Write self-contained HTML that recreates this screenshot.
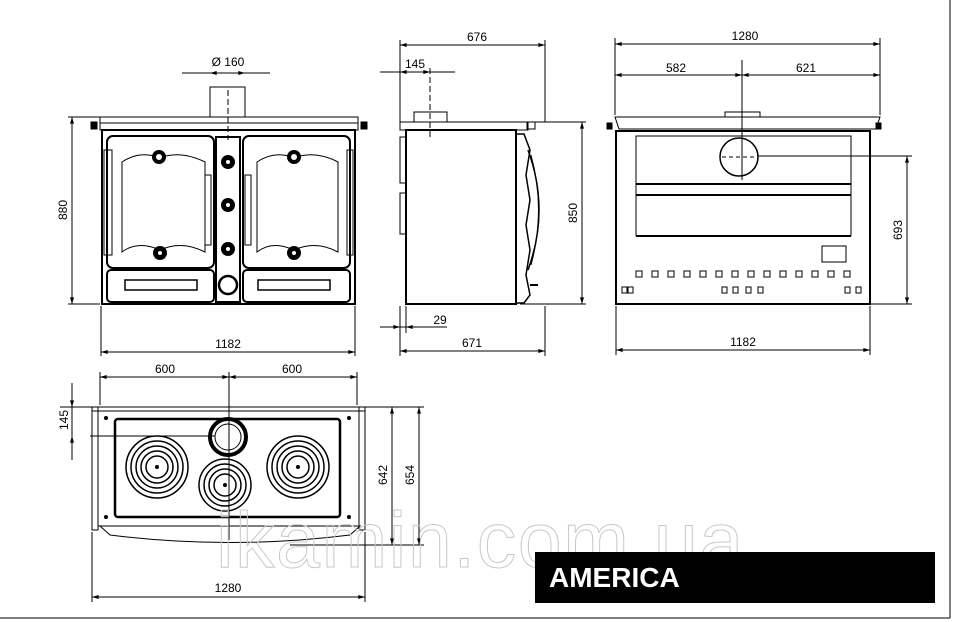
<!DOCTYPE html>
<html><head><meta charset="utf-8"><style>
html,body{margin:0;padding:0;background:#fff}
svg{display:block}
text{font-family:"Liberation Sans",sans-serif;fill:#000}
</style></head><body>
<svg width="954" height="622" viewBox="0 0 954 622" xmlns="http://www.w3.org/2000/svg">
<defs>
<marker id="a" viewBox="0 0 10 6" refX="10" refY="3" markerWidth="8" markerHeight="4" orient="auto-start-reverse"><path d="M0,0L10,3L0,6z" fill="#000"/></marker>
</defs>
<g stroke="#000" fill="none" stroke-width="1">
<line x1="0" y1="618" x2="950" y2="618"/>
<line x1="950" y1="0" x2="950" y2="618"/>

<line x1="182" y1="73" x2="270" y2="73"/>
<line x1="210" y1="73" x2="245" y2="73" marker-start="url(#a)" marker-end="url(#a)"/>
<line x1="228" y1="90" x2="228" y2="140" stroke-dasharray="6,3"/>
<rect x="210" y="87" width="35" height="30"/>
<rect x="100" y="117" width="258" height="6"/>
<rect x="100" y="123" width="258" height="7"/>
<rect x="91" y="122" width="6" height="7" fill="#000"/>
<rect x="361" y="122" width="6" height="7" fill="#000"/>
<rect x="102" y="130" width="253" height="174" stroke-width="2"/>
<rect x="107" y="136" width="107" height="132" rx="6" stroke-width="2"/>
<rect x="243" y="136" width="107" height="132" rx="6" stroke-width="2"/>
<path d="M122,162 Q140,150 160,158 Q180,150 205,162 L205,252 Q182,240 160,250 Q138,240 122,252Z"/>
<path d="M257,162 Q275,150 294,158 Q315,150 338,162 L338,252 Q316,240 294,250 Q272,240 257,252Z"/>
<path d="M104,150 L112,150 L112,255 L104,255Z"/>
<path d="M347,150 L353,150 L353,255 L347,255Z"/>
<rect x="216" y="137" width="24" height="165" stroke-width="2"/>
<rect x="205" y="175" width="6" height="70"/>
<rect x="245" y="175" width="6" height="70"/>
<rect x="107" y="270" width="107" height="32" rx="4" stroke-width="2"/>
<rect x="243" y="270" width="107" height="32" rx="4" stroke-width="2"/>
<rect x="125" y="280" width="72" height="10" stroke-width="1.5"/>
<rect x="258" y="280" width="72" height="10" stroke-width="1.5"/>
<circle cx="228" cy="285" r="9" stroke-width="2.5"/>
</g>
<g fill="#000">
<circle cx="159" cy="157" r="7"/><circle cx="294" cy="157" r="7"/>
<circle cx="160" cy="253" r="7"/><circle cx="294" cy="253" r="7"/>
<circle cx="228" cy="162" r="7"/><circle cx="228" cy="205" r="7"/><circle cx="228" cy="249" r="7"/>
</g>
<g fill="#fff"><circle cx="159" cy="157" r="3"/><circle cx="294" cy="157" r="3"/><circle cx="160" cy="253" r="2"/><circle cx="294" cy="253" r="2"/><circle cx="228" cy="162" r="2"/><circle cx="228" cy="205" r="2"/><circle cx="228" cy="249" r="2"/></g>
<g stroke="#000" fill="none">
<line x1="68" y1="117" x2="100" y2="117"/>
<line x1="68" y1="304" x2="100" y2="304"/>
<line x1="72" y1="117" x2="72" y2="304" marker-start="url(#a)" marker-end="url(#a)"/>
<line x1="101" y1="306" x2="101" y2="356"/>
<line x1="355" y1="306" x2="355" y2="356"/>
<line x1="101" y1="352" x2="355" y2="352" marker-start="url(#a)" marker-end="url(#a)"/>

<line x1="400" y1="40" x2="400" y2="122"/>
<line x1="545" y1="40" x2="545" y2="122"/>
<line x1="400" y1="45" x2="545" y2="45" marker-start="url(#a)" marker-end="url(#a)"/>
<line x1="380" y1="72" x2="455" y2="72"/>
<line x1="400" y1="72" x2="430" y2="72" marker-start="url(#a)" marker-end="url(#a)"/>
<line x1="430" y1="68" x2="430" y2="140" stroke-dasharray="6,3"/>
<rect x="414" y="112" width="33" height="10"/>
<rect x="400" y="122" width="128" height="8"/>
<rect x="527" y="122" width="8" height="7"/>
<rect x="406" y="130" width="110" height="174" stroke-width="2"/>
<rect x="400" y="137" width="6" height="46"/>
<rect x="400" y="193" width="6" height="41"/>
<path d="M516,134 L524,134 L530,150 L526,175 L530,200 L526,225 L530,250 L526,275 L530,295 L524,303 L516,303" stroke-width="1.5"/>
<path d="M528,150 Q550,210 528,270" stroke-width="1.5"/>
<path d="M531,155 Q546,210 531,265"/>
<line x1="530" y1="285" x2="538" y2="285" stroke-width="2"/>
<line x1="530" y1="122" x2="586" y2="122"/>
<line x1="520" y1="304" x2="586" y2="304"/>
<line x1="582" y1="122" x2="582" y2="304" marker-start="url(#a)" marker-end="url(#a)"/>
<line x1="406" y1="306" x2="406" y2="333"/>
<line x1="380" y1="327" x2="447" y2="327"/>
<line x1="390" y1="327" x2="400" y2="327" marker-end="url(#a)"/>
<line x1="416" y1="327" x2="406" y2="327" marker-end="url(#a)"/>
<line x1="400" y1="306" x2="400" y2="356"/>
<line x1="545" y1="306" x2="545" y2="356"/>
<line x1="400" y1="351" x2="545" y2="351" marker-start="url(#a)" marker-end="url(#a)"/>

<line x1="615" y1="38" x2="615" y2="115"/>
<line x1="880" y1="38" x2="880" y2="115"/>
<line x1="615" y1="44" x2="880" y2="44" marker-start="url(#a)" marker-end="url(#a)"/>
<line x1="742" y1="60" x2="742" y2="180"/>
<line x1="615" y1="75" x2="742" y2="75" marker-start="url(#a)" marker-end="url(#a)"/>
<line x1="742" y1="75" x2="880" y2="75" marker-start="url(#a)" marker-end="url(#a)"/>
<rect x="725" y="112" width="35" height="5"/>
<path d="M615,117 L880,117 L876,129 L619,129Z"/>
<rect x="607" y="123" width="5" height="6" fill="#000"/>
<rect x="876" y="123" width="5" height="6" fill="#000"/>
<rect x="616" y="131" width="254" height="173" stroke-width="2"/>
<rect x="636" y="136" width="215" height="48"/>
<line x1="636" y1="184" x2="851" y2="184" stroke-width="2"/>
<line x1="636" y1="195" x2="851" y2="195" stroke-width="2"/>
<line x1="636" y1="236" x2="851" y2="236" stroke-width="2"/>
<line x1="636" y1="184" x2="636" y2="236"/>
<line x1="851" y1="184" x2="851" y2="236"/>
<circle cx="739" cy="157" r="19" stroke-width="1.5"/>
<line x1="722" y1="157" x2="756" y2="157" stroke-dasharray="4,3"/>
<rect x="822" y="246" width="24" height="16"/>
<line x1="758" y1="156" x2="912" y2="156"/>
<line x1="870" y1="304" x2="912" y2="304"/>
<line x1="907" y1="156" x2="907" y2="304" marker-start="url(#a)" marker-end="url(#a)"/>
<line x1="616" y1="306" x2="616" y2="355"/>
<line x1="870" y1="306" x2="870" y2="355"/>
<line x1="616" y1="350" x2="870" y2="350" marker-start="url(#a)" marker-end="url(#a)"/>
</g>
<g fill="none" stroke="#000">
<rect x="636" y="271" width="6" height="6"/><rect x="652" y="271" width="6" height="6"/><rect x="668" y="271" width="6" height="6"/><rect x="684" y="271" width="6" height="6"/><rect x="700" y="271" width="6" height="6"/><rect x="716" y="271" width="6" height="6"/><rect x="732" y="271" width="6" height="6"/><rect x="748" y="271" width="6" height="6"/><rect x="764" y="271" width="6" height="6"/><rect x="780" y="271" width="6" height="6"/><rect x="796" y="271" width="6" height="6"/><rect x="812" y="271" width="6" height="6"/><rect x="828" y="271" width="6" height="6"/><rect x="844" y="271" width="6" height="6"/>
<rect x="622" y="287" width="5" height="6"/><rect x="628" y="287" width="5" height="6"/><rect x="722" y="287" width="5" height="6"/><rect x="733" y="287" width="5" height="6"/><rect x="746" y="287" width="5" height="6"/><rect x="758" y="287" width="5" height="6"/><rect x="845" y="287" width="5" height="6"/><rect x="856" y="287" width="5" height="6"/>
</g>

<g stroke="#000" fill="none">
<line x1="100" y1="372" x2="100" y2="405"/>
<line x1="357" y1="372" x2="357" y2="405"/>
<line x1="229" y1="372" x2="229" y2="540"/>
<line x1="100" y1="377" x2="229" y2="377" marker-start="url(#a)" marker-end="url(#a)"/>
<line x1="229" y1="377" x2="357" y2="377" marker-start="url(#a)" marker-end="url(#a)"/>
<rect x="92" y="407" width="273" height="4"/>
<rect x="92" y="407" width="6" height="123"/>
<rect x="359" y="407" width="6" height="123"/>
<rect x="98" y="411" width="261" height="115"/>
<rect x="115" y="419" width="225" height="98" rx="3" stroke-width="2.5"/>
<path d="M100,526 L360,526 L350,535 Q230,550 110,535Z"/>
<g stroke-width="1.5">
<circle cx="157" cy="467" r="31"/><circle cx="157" cy="467" r="26"/><circle cx="157" cy="467" r="21"/><circle cx="157" cy="467" r="16"/><circle cx="157" cy="467" r="11"/>
<circle cx="298" cy="467" r="31"/><circle cx="298" cy="467" r="26"/><circle cx="298" cy="467" r="21"/><circle cx="298" cy="467" r="16"/><circle cx="298" cy="467" r="11"/>
<circle cx="225" cy="485" r="26"/><circle cx="225" cy="485" r="21"/><circle cx="225" cy="485" r="16"/><circle cx="225" cy="485" r="11"/>
</g>
<circle cx="228" cy="437" r="18" stroke-width="4"/>
<circle cx="228" cy="437" r="13"/>
<line x1="90" y1="436" x2="215" y2="436"/>
<line x1="60" y1="407" x2="92" y2="407"/>
<line x1="72" y1="383" x2="72" y2="460"/>
<line x1="72" y1="395" x2="72" y2="407" marker-end="url(#a)"/>
<line x1="72" y1="448" x2="72" y2="436" marker-end="url(#a)"/>
<line x1="365" y1="407" x2="424" y2="407"/>
<line x1="290" y1="545" x2="424" y2="545"/>
<line x1="392" y1="407" x2="392" y2="545" marker-start="url(#a)" marker-end="url(#a)"/>
<line x1="419" y1="407" x2="419" y2="545" marker-start="url(#a)" marker-end="url(#a)"/>
<line x1="92" y1="532" x2="92" y2="602"/>
<line x1="365" y1="532" x2="365" y2="602"/>
<line x1="92" y1="597" x2="365" y2="597" marker-start="url(#a)" marker-end="url(#a)"/>
</g>
<g fill="#000">
<circle cx="157" cy="467" r="2"/><circle cx="298" cy="467" r="2"/><circle cx="225" cy="485" r="2"/>
<circle cx="106" cy="418" r="2"/><circle cx="349" cy="418" r="2"/><circle cx="106" cy="517" r="2"/><circle cx="349" cy="517" r="2"/>
</g>

<text x="216" y="567" font-size="79" style="fill:none;stroke:#c8c8c8;stroke-width:1" letter-spacing="1.5">ikamin.com.ua</text>

<text x="228" y="66" font-size="12" text-anchor="middle">Ø 160</text>
<text x="228" y="348" font-size="12" text-anchor="middle">1182</text>
<text transform="translate(67,210) rotate(-90)" font-size="12" text-anchor="middle">880</text>
<text x="477" y="41" font-size="12" text-anchor="middle">676</text>
<text x="415" y="68" font-size="12" text-anchor="middle">145</text>
<text transform="translate(577,213) rotate(-90)" font-size="12" text-anchor="middle">850</text>
<text x="440" y="324" font-size="12" text-anchor="middle">29</text>
<text x="472" y="347" font-size="12" text-anchor="middle">671</text>
<text x="745" y="40" font-size="12" text-anchor="middle">1280</text>
<text x="676" y="72" font-size="12" text-anchor="middle">582</text>
<text x="806" y="72" font-size="12" text-anchor="middle">621</text>
<text transform="translate(902,230) rotate(-90)" font-size="12" text-anchor="middle">693</text>
<text x="743" y="346" font-size="12" text-anchor="middle">1182</text>
<text x="165" y="373" font-size="12" text-anchor="middle">600</text>
<text x="292" y="373" font-size="12" text-anchor="middle">600</text>
<text transform="translate(68,420) rotate(-90)" font-size="12" text-anchor="middle">145</text>
<text transform="translate(387,475) rotate(-90)" font-size="12" text-anchor="middle">642</text>
<text transform="translate(414,475) rotate(-90)" font-size="12" text-anchor="middle">654</text>
<text x="228" y="592" font-size="12" text-anchor="middle">1280</text>

<rect x="535" y="552" width="400" height="51" fill="#000"/>
<text x="549" y="587" font-size="28" font-weight="bold" style="fill:#fff">AMERICA</text>
</svg>
</body></html>
